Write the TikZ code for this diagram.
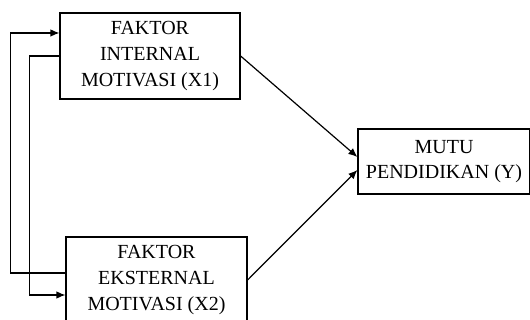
\documentclass[tikz,border=0pt]{standalone}
\usepackage{fontspec}
\setmainfont{Liberation Serif}
\usetikzlibrary{arrows.meta}

\begin{document}
\begin{tikzpicture}[x=0.5pt,y=-0.5pt,
    var/.style={draw,line width=0.6pt,align=center,inner sep=0pt,
      font=\fontsize{10}{12.8}\selectfont},
    every path/.style={line width=0.6pt},
    >={Latex[length=4.5pt,width=3.8pt]}]
  \useasboundingbox (0,0) rectangle (530,320);
      \draw
        (150,56) node[var,minimum width=90pt,minimum height=43pt] (x1){FAKTOR\\INTERNAL\\MOTIVASI (X1)}
        (156.5,280) node[var,minimum width=90.5pt,minimum height=43pt] (x2){FAKTOR\\EKSTERNAL\\MOTIVASI (X2)}
        (444,161.5) node[var,minimum width=86pt,minimum height=32.5pt] (y){MUTU\\PENDIDIKAN (Y)};
      \begin{scope}[->]
        \draw (x1.east) -- ([yshift=2.25pt]y.west);
        \draw (x2.east) -- ([yshift=-4.25pt]y.west);
        \draw ([yshift=3.5pt]x2.west) -- ++(-55,0) |- ([yshift=11.5pt]x1.west);
        \draw (x1.west) -- ++(-30,0) |- ([yshift=-7.5pt]x2.west);
      \end{scope}
    \end{tikzpicture}
\end{document}
